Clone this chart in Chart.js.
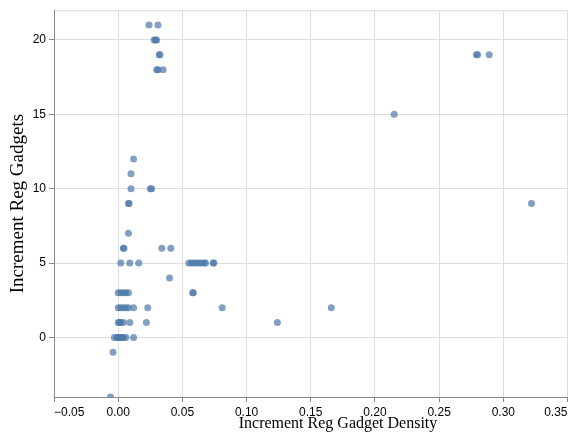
<!DOCTYPE html>
<html>
<head>
<meta charset="utf-8">
<script src="https://cdn.jsdelivr.net/npm/chart.js@4"></script>
<style>
  html, body { margin: 0; padding: 0; background: #fff; }
  canvas { display: block; }
</style>
</head>
<body>
<canvas id="densityChart" width="571" height="441"></canvas>
<script>
// 1. DATA
const densityValues = [
    0.024, 0.031,
    0.028, 0.029, 0.030,
    0.032, 0.0325,
    0.030, 0.031, 0.035,
    0.279, 0.280, 0.289,
    0.215,
    0.012,
    0.010,
    0.010, 0.025, 0.026,
    0.008, 0.0085, 0.322,
    0.008,
    0.004, 0.0045, 0.034, 0.041,
    0.002, 0.009, 0.016, 0.055, 0.057, 0.059, 0.061, 0.063, 0.065, 0.067, 0.068, 0.074, 0.0745,
    0.040,
    0.000, 0.002, 0.004, 0.006, 0.008, 0.058, 0.0585,
    0.000, 0.002, 0.004, 0.006, 0.008, 0.012, 0.023, 0.081, 0.166,
    0.000, 0.001, 0.002, 0.004, 0.009, 0.022, 0.124,
    -0.003, -0.001, 0.000, 0.001, 0.002, 0.003, 0.004, 0.006, 0.012,
    -0.004,
    -0.006
];
const gadgetValues = [
    21, 21,
    20, 20, 20,
    19, 19,
    18, 18, 18,
    19, 19, 19,
    15,
    12,
    11,
    10, 10, 10,
    9, 9, 9,
    7,
    6, 6, 6, 6,
    5, 5, 5, 5, 5, 5, 5, 5, 5, 5, 5, 5, 5,
    4,
    3, 3, 3, 3, 3, 3, 3,
    2, 2, 2, 2, 2, 2, 2, 2, 2,
    1, 1, 1, 1, 1, 1, 1,
    0, 0, 0, 0, 0, 0, 0, 0, 0,
    -1,
    -4
];
const xTicks = [-0.05, 0, 0.05, 0.10, 0.15, 0.20, 0.25, 0.30, 0.35];
const yTicks = [0, 5, 10, 15, 20];
const xTitle = 'Increment Reg Gadget Density';
const yTitle = 'Increment Reg Gadgets';

const points = densityValues.map((x, i) => ({ x: x, y: gadgetValues[i] }));

// 2. PLUGINS: view frame + axis titles
const framePlugin = {
    id: 'frame',
    beforeDraw(chart) {
        const a = chart.chartArea, c = chart.ctx;
        c.save();
        c.strokeStyle = '#ddd';
        c.lineWidth = 1;
        c.beginPath();
        c.moveTo(a.left, a.top + 0.5);
        c.lineTo(a.right, a.top + 0.5);
        c.stroke();
        c.restore();
    }
};

const titlePlugin = {
    id: 'axisTitles',
    afterDraw(chart) {
        const a = chart.chartArea, c = chart.ctx;
        c.save();
        c.fillStyle = '#000';
        c.textAlign = 'center';
        c.textBaseline = 'middle';
        c.font = '16px "Liberation Serif", "Times New Roman", serif';
        c.fillText(xTitle, 338, 424);
        c.font = '19px "Liberation Serif", "Times New Roman", serif';
        c.translate(18, (a.top + a.bottom) / 2);
        c.rotate(-Math.PI / 2);
        c.fillText(yTitle, 0, 0);
        c.restore();
    }
};

const fmt = v => v.toFixed(2).replace('-', '\u2212');

// 3. CHART
const ctx = document.getElementById('densityChart').getContext('2d');
new Chart(ctx, {
    type: 'scatter',
    data: {
        datasets: [{
            data: points,
            backgroundColor: 'rgba(76,120,168,0.7)',
            borderWidth: 0,
            pointRadius: 3.5,
            pointHoverRadius: 3.5
        }]
    },
    options: {
        responsive: false,
        animation: false,
        events: [],
        layout: { padding: { top: 7, right: 1, left: 0, bottom: 0 } },
        plugins: { legend: { display: false }, tooltip: { enabled: false } },
        scales: {
            x: {
                type: 'linear',
                min: -0.05,
                max: 0.35,
                afterBuildTicks: s => { s.ticks = xTicks.map(v => ({ value: v })); },
                afterFit: s => { s.height = 44; },
                grid: { color: '#ddd', tickColor: '#888', tickLength: 5 },
                border: { color: '#888' },
                ticks: {
                    align: 'inner',
                    padding: 3,
                    maxRotation: 0,
                    color: '#000',
                    font: { family: '"Liberation Sans", Arial, sans-serif', size: 12 },
                    callback: v => fmt(v)
                }
            },
            y: {
                type: 'linear',
                min: -4,
                max: 22,
                afterBuildTicks: s => { s.ticks = yTicks.map(v => ({ value: v })); },
                afterFit: s => { s.width = 54; },
                grid: { color: '#ddd', tickColor: '#888', tickLength: 5 },
                border: { color: '#888' },
                ticks: {
                    padding: 3,
                    color: '#000',
                    font: { family: '"Liberation Sans", Arial, sans-serif', size: 12 },
                    callback: v => String(v)
                }
            }
        }
    },
    plugins: [framePlugin, titlePlugin]
});
</script>
</body>
</html>
